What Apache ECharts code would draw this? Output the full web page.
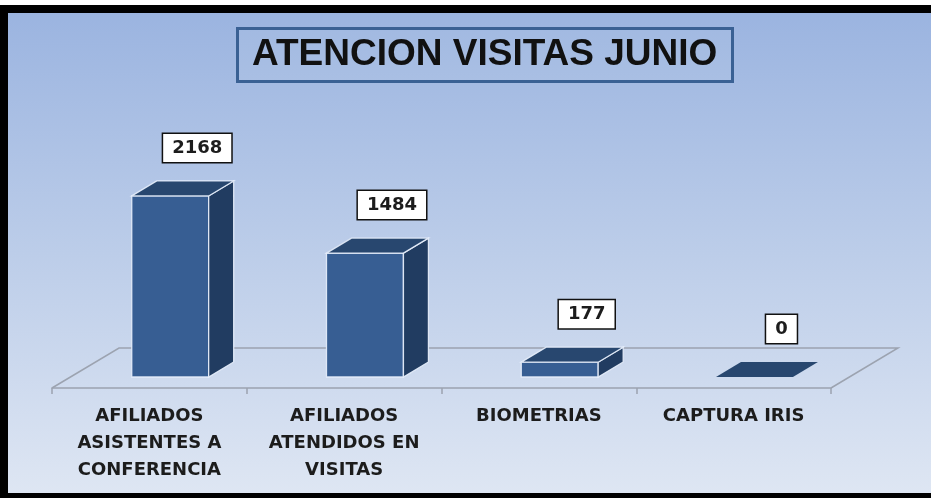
<!DOCTYPE html>
<html>
<head>
<meta charset="utf-8">
<script src="https://cdn.jsdelivr.net/npm/echarts@6/dist/echarts.min.js"></script>
<style>
  html,body{margin:0;padding:0;background:#fff;}
  #chart{position:absolute;left:0;top:5px;width:931px;height:493px;box-sizing:border-box;
    border-top:8px solid #000;border-left:8px solid #000;border-bottom:5px solid #000;}
</style>
</head>
<body>
<div id="chart"></div>
<script>
// ---- datos ----
const categorias = [
  'AFILIADOS\nASISTENTES A\nCONFERENCIA',
  'AFILIADOS\nATENDIDOS EN\nVISITAS',
  'BIOMETRIAS',
  'CAPTURA IRIS'
];
const valores = [2168, 1484, 177, 0];
const titulo = 'ATENCION VISITAS JUNIO';

const C = {
  front:'#375e93', top:'#28476f', side:'#213c61', edge:'rgba(232,240,252,0.9)',
  floor:'#9ca3b0', txt:'#1c1c1c'
};
const DX = 25, DY = -15;        // profundidad de la barra
const FDX = 67, FDY = -40;      // profundidad del piso

const chart = echarts.init(document.getElementById('chart'));

// ---- barra 3D ----
function renderBar(params, api){
  const i = api.value(0), v = api.value(1);
  const base = api.coord([i, 0]);
  const tp = api.coord([i, v]);
  const band = api.size([1, 0])[0];
  const w = band * 0.395, cx = base[0] + band * 0.107;
  const x0 = cx - w/2, x1 = cx + w/2;
  const yb = base[1] - 11, yt = tp[1] - 11;
  const kids = [];
  if (v > 0) {
    kids.push({ type:'polygon', shape:{ points:[[x0,yt],[x1,yt],[x1,yb],[x0,yb]] },
      style:{ fill:C.front, stroke:C.edge, lineWidth:1.3 } });
    kids.push({ type:'polygon', shape:{ points:[[x1,yt],[x1+DX,yt+DY],[x1+DX,yb+DY],[x1,yb]] },
      style:{ fill:C.side, stroke:C.edge, lineWidth:1.3 } });
    kids.push({ type:'polygon', shape:{ points:[[x0,yt],[x1,yt],[x1+DX,yt+DY],[x0+DX,yt+DY]] },
      style:{ fill:C.top, stroke:C.edge, lineWidth:1.3 } });
  } else {
    kids.push({ type:'polygon', shape:{ points:[[x0,yt],[x1,yt],[x1+DX,yt+DY],[x0+DX,yt+DY]] },
      style:{ fill:C.top } });
  }
  kids.push({ type:'text', style:{
    text:String(v), x:cx + DX + 2, y:yt + DY - 19,
    align:'center', verticalAlign:'bottom',
    font:'bold 18px "DejaVu Sans"', fill:C.txt,
    backgroundColor:'#fff', borderColor:'#111', borderWidth:1.5, padding:[5,9]
  }});
  return { type:'group', children:kids };
}

// ---- piso ----
function renderFloor(params, api){
  const cs = params.coordSys;
  const yb = cs.y + cs.height, xl = cs.x, xr = cs.x + cs.width;
  return { type:'polyline', shape:{ points:[[xl,yb],[xl+FDX,yb+FDY],[xr+FDX,yb+FDY],[xr,yb]] },
    style:{ stroke:C.floor, lineWidth:1.5, fill:null } };
}

chart.setOption({
  animation:false,
  backgroundColor:new echarts.graphic.LinearGradient(0,0,0,1,[
    {offset:0,color:'#9bb4e0'},{offset:0.5,color:'#bccde9'},{offset:1,color:'#dee6f3'}]),
  title:{
    text:titulo, left:229, top:15,
    borderColor:'#3a6194', borderWidth:3, backgroundColor:'rgba(255,255,255,0.06)',
    padding:[5,15],
    textStyle:{ fontFamily:'Liberation Sans', fontWeight:'bold', fontSize:37, lineHeight:44, color:'#111' }
  },
  grid:{ left:44, right:100, top:41, bottom:105 },
  xAxis:{
    type:'category', data:categorias, boundaryGap:true,
    axisLine:{ lineStyle:{ color:C.floor, width:1.5 } },
    axisTick:{ show:true, length:6, lineStyle:{ color:C.floor, width:1.5 } },
    axisLabel:{ interval:0, margin:15, color:C.txt, fontFamily:'DejaVu Sans', fontWeight:'bold',
      fontSize:18, lineHeight:27 }
  },
  yAxis:{ type:'value', min:0, max:4000, show:false },
  series:[
    { type:'custom', name:'piso', renderItem:renderFloor, data:[[0,0]], silent:true, z:1 },
    { type:'custom', name:'visitas', renderItem:renderBar, silent:true, z:2,
      data:valores.map((v,i)=>[i,v]) }
  ]
});
</script>
</body>
</html>
